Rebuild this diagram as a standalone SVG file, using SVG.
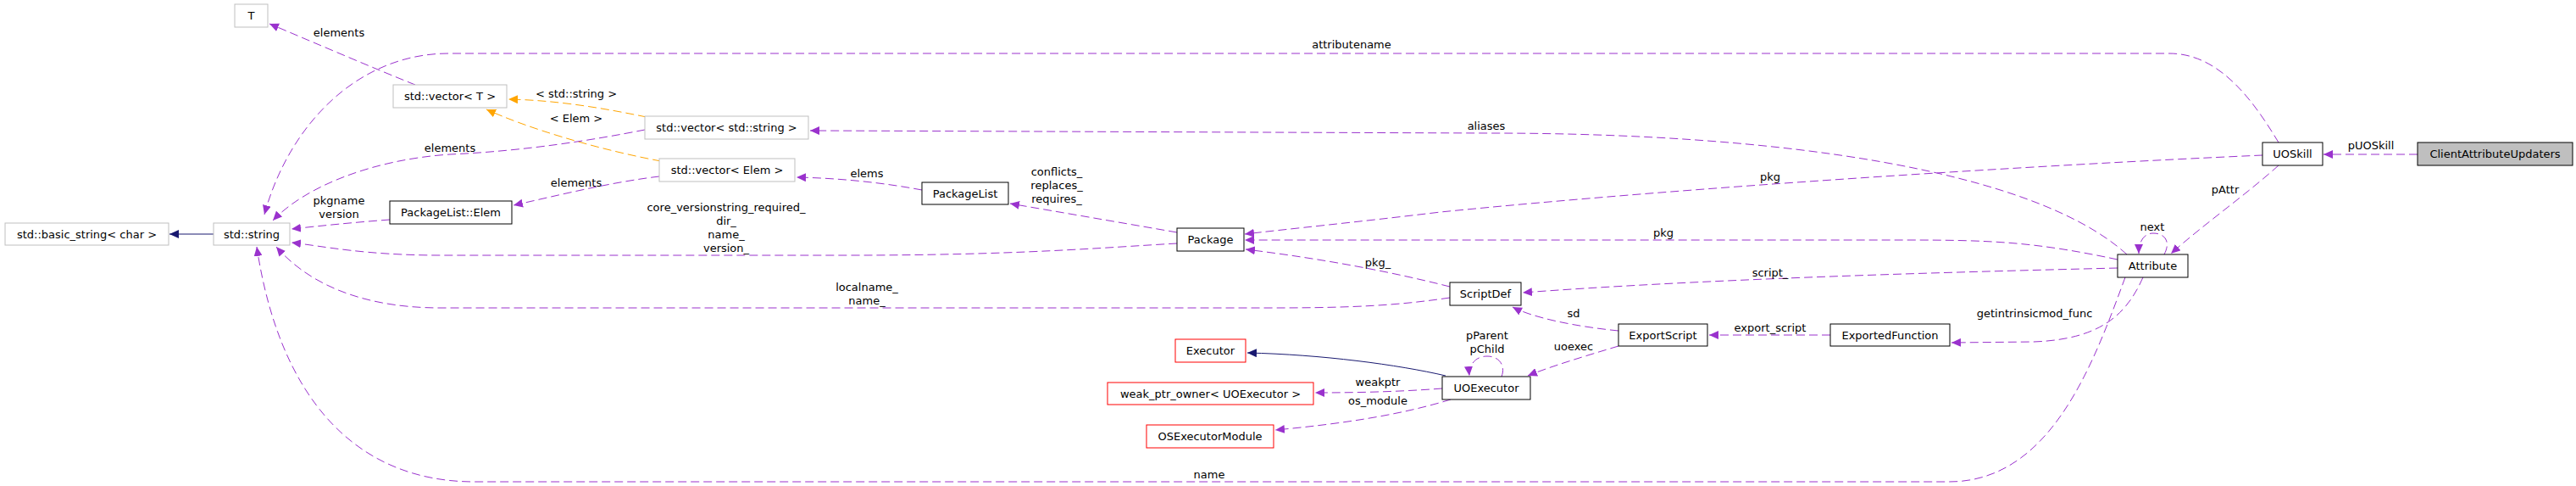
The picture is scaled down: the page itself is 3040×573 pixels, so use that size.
<svg xmlns="http://www.w3.org/2000/svg" width="3040" height="573" viewBox="0 0 3040 573">
<defs>
<marker id="ap" markerUnits="userSpaceOnUse" markerWidth="12" markerHeight="10" refX="11" refY="5" orient="auto"><path d="M0,0 L11,5 L0,10 z" fill="#9a32cd"/></marker>
<marker id="ao" markerUnits="userSpaceOnUse" markerWidth="12" markerHeight="10" refX="11" refY="5" orient="auto"><path d="M0,0 L11,5 L0,10 z" fill="#ffa500"/></marker>
<marker id="an" markerUnits="userSpaceOnUse" markerWidth="12" markerHeight="10" refX="11" refY="5" orient="auto"><path d="M0,0 L11,5 L0,10 z" fill="#191970"/></marker>
</defs>
<style>
text{font-family:"DejaVu Sans","Liberation Sans",sans-serif;font-size:13px;fill:#000;text-anchor:middle}
.n rect{fill:#fff;stroke:#000;stroke-width:1}
.g rect{stroke:#bfbfbf}
.r rect{stroke:#ff0000}
.p{fill:none;stroke:#9a32cd;stroke-dasharray:10,5;marker-end:url(#ap)}
.o{fill:none;stroke:#ffa500;stroke-dasharray:10,5;marker-end:url(#ao)}
.s{fill:none;stroke:#191970;marker-end:url(#an)}
</style>
<rect width="3040" height="573" fill="#fff"/>
<g id="edges">
<path class="p" d="M2853,182 L2742,182"/>
<path class="p" d="M2689,195 C2650,230 2600,265 2562,299"/>
<path class="p" d="M2554,300 C2562,285 2555,275 2541,275 C2530,275 2524,285 2524,299"/>
<path class="p" d="M2670,183 C2400,195 2000,220 1700,250 C1600,262 1520,270 1469,276"/>
<path class="p" d="M2689,168 C2660,120 2620,63 2560,63 L530,63 C420,63 340,150 312,253"/>
<path class="p" d="M2510,300 C2400,200 2100,157 1760,157 L956,154"/>
<path class="o" d="M763,138 C700,125 650,118 600,117"/>
<path class="o" d="M780,190 C700,175 620,150 574,129"/>
<path class="p" d="M490,100 C440,80 370,50 318,28"/>
<path class="p" d="M761,153 C700,165 620,178 531,182 C440,188 360,220 322,260"/>
<path class="p" d="M778,208 C720,215 660,230 606,242"/>
<path class="p" d="M460,259 C420,262 380,266 344,270"/>
<path class="s" d="M252,276 L200,276"/>
<path class="p" d="M1088,224 C1040,215 990,210 940,209"/>
<path class="p" d="M1389,274 C1320,262 1250,250 1192,240"/>
<path class="p" d="M1389,287 C1300,292 1200,301 1000,301 L520,301 C430,301 380,290 344,286"/>
<path class="p" d="M2499,306 C2400,285 2350,283 2250,283 L1469,283"/>
<path class="p" d="M1711,338 C1640,320 1560,305 1470,294"/>
<path class="p" d="M2499,316 C2250,322 2000,330 1797,345"/>
<path class="p" d="M1711,351 C1650,360 1600,363 1500,363 L520,363 C420,363 360,330 326,291"/>
<path class="p" d="M2508,327 C2470,430 2420,568 2300,568 L560,568 C420,568 330,470 303,291"/>
<path class="p" d="M1910,390 C1860,385 1810,375 1785,362"/>
<path class="p" d="M2160,395 L2017,395"/>
<path class="p" d="M2529,327 C2510,370 2480,400 2400,403 L2303,404"/>
<path class="p" d="M1910,408 C1870,420 1830,432 1803,443"/>
<path class="p" d="M1772,444 C1777,432 1770,420 1755,420 C1740,420 1733,432 1734,443"/>
<path class="s" d="M1706,443 C1650,430 1560,418 1472,416"/>
<path class="p" d="M1702,458 C1650,462 1600,463 1552,463"/>
<path class="p" d="M1712,471 C1650,490 1580,500 1505,507"/>
</g>
<g id="labels">
<text x="2798" y="176">pUOSkill</text>
<text x="2626" y="228">pAttr</text>
<text x="2540" y="272">next</text>
<text x="2089" y="213">pkg</text>
<text x="1595" y="57">attributename</text>
<text x="1754" y="153">aliases</text>
<text x="680" y="115">&lt; std::string &gt;</text>
<text x="680" y="144">&lt; Elem &gt;</text>
<text x="400" y="43">elements</text>
<text x="531" y="179">elements</text>
<text x="680" y="220">elements</text>
<text x="400" y="241">pkgname</text>
<text x="400" y="257">version</text>
<text x="1023" y="209">elems</text>
<text x="1247" y="207">conflicts_</text>
<text x="1247" y="223">replaces_</text>
<text x="1247" y="239">requires_</text>
<text x="857" y="249">core_versionstring_required_</text>
<text x="857" y="265">dir_</text>
<text x="857" y="281">name_</text>
<text x="857" y="297">version_</text>
<text x="1963" y="279">pkg</text>
<text x="1626" y="314">pkg_</text>
<text x="2089" y="326">script_</text>
<text x="1023" y="343">localname_</text>
<text x="1023" y="359">name_</text>
<text x="1427" y="564">name</text>
<text x="1857" y="374">sd</text>
<text x="2089" y="391">export_script</text>
<text x="2401" y="374">getintrinsicmod_func</text>
<text x="1857" y="413">uoexec</text>
<text x="1755" y="400">pParent</text>
<text x="1755" y="416">pChild</text>
<text x="1626" y="455">weakptr</text>
<text x="1626" y="477">os_module</text>
</g>
<g id="ClientAttributeUpdaters" class="n"><rect x="2853" y="168" width="183" height="27" style="fill:#bfbfbf"/><text x="2944.5" y="186">ClientAttributeUpdaters</text></g>
<g id="UOSkill" class="n"><rect x="2670" y="168" width="71" height="27"/><text x="2705.5" y="186">UOSkill</text></g>
<g id="Attribute" class="n"><rect x="2499" y="300" width="83" height="27"/><text x="2540.5" y="318">Attribute</text></g>
<g id="T" class="n g"><rect x="277" y="5" width="39" height="27"/><text x="296.5" y="23">T</text></g>
<g id="vectorT" class="n g"><rect x="464" y="100" width="134" height="27"/><text x="531" y="118">std::vector&lt; T &gt;</text></g>
<g id="vectorString" class="n g"><rect x="761" y="137" width="193" height="27"/><text x="857.5" y="155">std::vector&lt; std::string &gt;</text></g>
<g id="vectorElem" class="n g"><rect x="778" y="187" width="160" height="27"/><text x="858" y="205">std::vector&lt; Elem &gt;</text></g>
<g id="PackageListElem" class="n"><rect x="460" y="237" width="144" height="27"/><text x="532" y="255">PackageList::Elem</text></g>
<g id="basicString" class="n g"><rect x="6" y="263" width="193" height="26"/><text x="102.5" y="280.5">std::basic_string&lt; char &gt;</text></g>
<g id="stdString" class="n g"><rect x="252" y="263" width="90" height="26"/><text x="297" y="280.5">std::string</text></g>
<g id="PackageList" class="n"><rect x="1088" y="215" width="102" height="26"/><text x="1139" y="232.5">PackageList</text></g>
<g id="Package" class="n"><rect x="1389" y="269" width="79" height="27"/><text x="1428.5" y="287">Package</text></g>
<g id="ScriptDef" class="n"><rect x="1711" y="333" width="84" height="27"/><text x="1753" y="351">ScriptDef</text></g>
<g id="ExportScript" class="n"><rect x="1910" y="382" width="105" height="26"/><text x="1962.5" y="399.5">ExportScript</text></g>
<g id="ExportedFunction" class="n"><rect x="2160" y="382" width="141" height="26"/><text x="2230.5" y="399.5">ExportedFunction</text></g>
<g id="UOExecutor" class="n"><rect x="1702" y="444" width="104" height="27"/><text x="1754" y="462">UOExecutor</text></g>
<g id="Executor" class="n r"><rect x="1387" y="400" width="83" height="27"/><text x="1428.5" y="418">Executor</text></g>
<g id="weakPtrOwner" class="n r"><rect x="1307" y="451" width="243" height="26"/><text x="1428.5" y="468.5">weak_ptr_owner&lt; UOExecutor &gt;</text></g>
<g id="OSExecutorModule" class="n r"><rect x="1353" y="501" width="150" height="27"/><text x="1428" y="519">OSExecutorModule</text></g>
</svg>
